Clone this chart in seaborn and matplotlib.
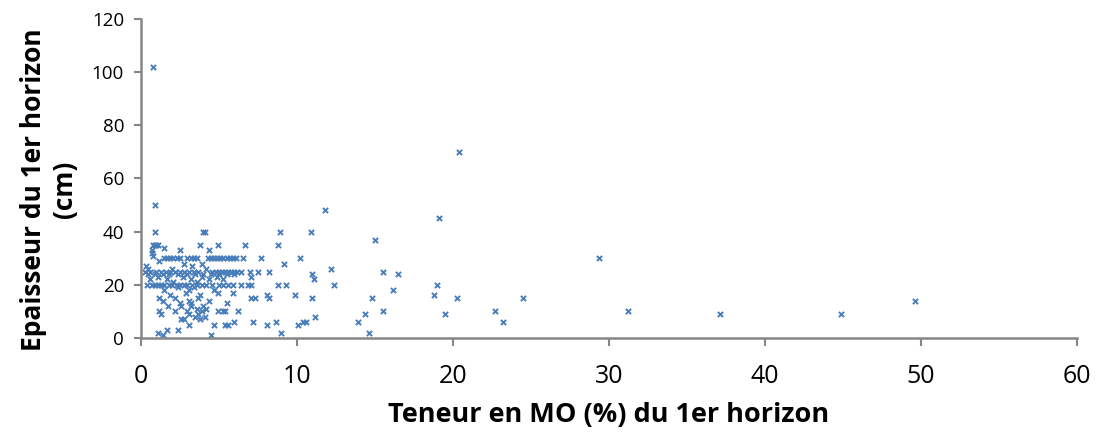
import matplotlib
matplotlib.use("Agg")
import matplotlib.pyplot as plt
import numpy as np
import pandas as pd
import seaborn as sns


# -------------------------------------------------------------------------------------------
# Données (x = teneur en MO %, y = épaisseur cm)

# points hors du nuage principal
mo_out = [20.4, 11.8, 19.1, 8.9, 10.9, 15.0, 8.8, 7.7, 10.2, 9.2, 12.2, 15.5, 16.5, 11.0,
          11.1, 7.5, 8.2, 8.8, 9.3, 12.4, 19.0, 16.2, 9.9, 18.8, 7.3, 8.1, 8.2, 11.0, 14.8,
          20.3, 24.5, 14.4, 15.5, 19.5, 22.7, 23.2, 11.2, 8.1, 8.7, 10.1, 10.4, 10.6, 13.9,
          9.0, 14.6, 29.4, 31.2, 37.1, 44.9, 49.6, 7.2, 7.0, 7.1, 7.05, 7.1, 0.8]
ep_out = [70, 48, 45, 40, 40, 37, 35, 30, 30, 28, 26, 25, 24, 24,
          22, 25, 25, 20, 20, 20, 20, 18, 16, 16, 15, 16, 15, 15, 15,
          15, 15, 9, 10, 9, 10, 6, 8, 5, 6, 5, 6, 6, 6,
          2, 2, 30, 10, 9, 9, 14, 6, 25, 23, 20, 15, 102]

# nuage principal (MO < 7 %), rangé par épaisseur
cluster = {
    50: [0.9],
    40: [0.9, 4.0, 4.15],
    35: [0.8, 0.9, 1.0, 1.1, 3.8, 4.95, 6.7],
    34: [1.5],
    33: [0.7, 2.5, 4.4],
    32: [0.75],
    31: [0.8],
    30: [1.5, 1.7, 1.9, 2.1, 2.3, 2.5, 3.0, 3.2, 3.4, 3.6, 4.3, 4.5, 4.7, 4.9, 5.1,
         5.3, 5.5, 5.7, 5.9, 6.1, 6.55],
    29: [1.2],
    28: [3.9, 2.8],
    27: [0.35, 3.3],
    26: [0.45, 2.0, 4.2],
    25: [0.3, 0.6, 1.0, 1.3, 1.6, 1.9, 2.2, 2.5, 2.8, 3.1, 3.4, 3.7, 4.6, 4.8, 5.0,
         5.2, 5.4, 5.6, 5.8, 6.0, 6.2, 6.4],
    24: [0.5, 0.9, 1.4, 1.8, 2.4, 3.0, 3.5, 4.0, 4.5, 5.0, 5.5, 6.0],
    23: [1.1, 2.7, 3.9, 4.9],
    22: [0.6, 1.7, 3.2, 4.4, 5.3],
    21: [2.1, 3.6],
    20: [0.4, 0.7, 0.9, 1.1, 1.3, 1.5, 1.8, 2.0, 2.3, 2.5, 2.8, 3.0, 3.3, 3.6, 3.9,
         4.2, 4.6, 5.0, 5.3, 5.6, 5.9, 6.45, 6.9],
    19: [2.4, 3.4],
    18: [1.5, 4.7, 3.1],
    17: [4.96, 5.9, 2.9],
    16: [1.9, 3.8],
    15: [1.2, 3.7, 2.2],
    14: [1.4, 3.1, 4.4],
    13: [2.5, 5.55, 3.2],
    12: [1.75, 2.6, 3.2, 4.0],
    11: [3.6, 4.2],
    10: [1.2, 2.2, 3.0, 3.9, 4.96, 5.3, 5.4, 6.24],
    9: [1.3, 3.1, 3.7],
    8: [4.1, 3.5],
    7: [2.6, 2.8, 3.8],
    6: [6.0],
    5: [3.1, 4.7, 5.4, 5.6],
    3: [1.7, 2.4],
    2: [1.1],
    1: [1.4, 4.5],
}

xticks = [0, 10, 20, 30, 40, 50, 60]
yticks = [0, 20, 40, 60, 80, 100, 120]

rows = [(x, y) for y, xs in cluster.items() for x in xs]
rows += list(zip(mo_out, ep_out))
df = pd.DataFrame(rows, columns=["mo", "ep"])


# -------------------------------------------------------------------------------------------
# Graphique

sns.set_style("white")
plt.rcParams["font.family"] = ["Open Sans", "DejaVu Sans"]
plt.rcParams["text.color"] = "black"
plt.rcParams["axes.labelcolor"] = "black"
plt.rcParams["xtick.labelcolor"] = "black"
plt.rcParams["ytick.labelcolor"] = "black"

fig = plt.figure(figsize=(10.99, 4.41), dpi=100)
ax = fig.add_axes([0.128, 0.2336, 0.852, 0.7234])

sns.scatterplot(data=df, x="mo", y="ep", marker="x", color="#4A7EBB",
                s=14, linewidth=1.4, ax=ax)

ax.set_xlim(0, 60)
ax.set_ylim(0, 120)
ax.set_xticks(xticks)
ax.set_yticks(yticks)
ax.tick_params(axis="x", labelsize=18, length=6, width=1.5, color="#868686",
               direction="out", bottom=True, pad=13)
ax.tick_params(axis="y", labelsize=13.5, length=5, width=1.5, color="#868686",
               direction="out", left=True, pad=7)

for side in ["top", "right"]:
    ax.spines[side].set_visible(False)
for side in ["left", "bottom"]:
    ax.spines[side].set_color("#868686")
    ax.spines[side].set_linewidth(1.8)

ax.set_xlabel("Teneur en MO (%) du 1er horizon", fontsize=19.5, fontweight="bold", labelpad=9)
ax.set_ylabel("Epaisseur du 1er horizon\n(cm)", fontsize=19, fontweight="bold",
              linespacing=1.2)
ax.yaxis.set_label_coords(-0.067, 0.465)

fig.savefig("out.png", dpi=100)
